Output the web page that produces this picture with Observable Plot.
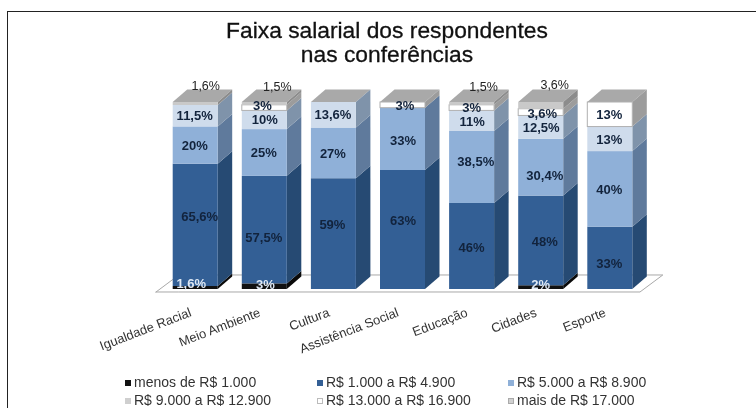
<!DOCTYPE html>
<html><head><meta charset="utf-8">
<script src="https://cdn.jsdelivr.net/npm/d3@7"></script>
<script src="https://cdn.jsdelivr.net/npm/@observablehq/plot@0.6"></script>
<style>
html,body{margin:0;padding:0;background:#fff;width:756px;height:408px;overflow:hidden;font-family:"Liberation Sans",Arial,sans-serif}
#frame{position:absolute;left:7px;top:11px;width:760px;height:420px;border-left:1px solid #222;border-top:1px solid #222;box-sizing:border-box}
#title{position:absolute;left:0;top:18px;width:774px;text-align:center;font-size:22.8px;line-height:24px;color:#111;-webkit-text-stroke:0.3px #111;filter:blur(0.35px)}
#chart{position:absolute;left:0;top:70px;filter:blur(0.45px)}
#legend{position:absolute;left:0;top:372px;width:756px;font-size:14px;color:#333;filter:blur(0.4px)}
.item{position:absolute;white-space:nowrap;line-height:16px}
.sw{display:inline-block;width:6px;height:6px;margin-right:3px;vertical-align:1px;box-sizing:border-box}
</style></head><body>
<div id="frame"></div>
<div id="title">Faixa salarial dos respondentes<br>nas conferências</div>
<div id="chart"></div>
<div id="legend"></div>
<script>
const categories = ["Igualdade Racial","Meio Ambiente","Cultura","Assistência Social","Educação","Cidades","Esporte"];
const series = ["menos de R$ 1.000","R$ 1.000 a R$ 4.900","R$ 5.000 a R$ 8.900","R$ 9.000 a R$ 12.900","R$ 13.000 a R$ 16.900","mais de R$ 17.000"];
const menos1000   = [1.6, 3,   0,  0,  0,   2,   0];
const de1000      = [65.6,57.5,59, 63, 46,  48,  33];
const de5000      = [20,  25,  27, 33, 38.5,30.4,40];
const de9000      = [11.5,10,  13.6,0, 11,  12.5,13];
const de13000     = [0,   3,   0,  3,  3,   3.6, 13];
const mais17000   = [1.6, 1.5, 0,  0,  1.5, 3.6, 0];
const valuesBySeries = [menos1000,de1000,de5000,de9000,de13000,mais17000];

const frontColors = ["#111111","#335f95","#8fb0d8","#cfdcec","#ffffff","#c9c9c9"];
const sideColors  = ["#0a0a0a","#264a73","#5f7a9c","#7f93aa","#9c9c9c","#8c8c8c"];
const topColor = "#a9a9a9";
const edgeColors  = ["none","none","none","none","#b0b0b0","none"];
const labelColors = ["#dfe9f5","#12233c","#12233c","#12233c","#12233c","#222"];

// label nudges in pixels from the middle of each segment (category|series: [dx,dy])
const nudges = {
 "0|0":[-4.5,-4.5],"0|1":[4,-9],"0|2":[-1,0],"0|3":[-1,0],"0|5":[10,-17.5],
 "1|0":[0.5,-2],"1|1":[-1,8],"1|2":[-1,0],"1|3":[0,0],"1|4":[-2.5,-2],"1|5":[12.5,-17],
 "2|1":[-1.5,-9],"2|2":[-1,0],"2|3":[-1,0],
 "3|1":[0,-9.5],"3|2":[0,1],"3|4":[2,0],
 "4|1":[-0.5,1],"4|2":[3.7,-6],"4|3":[0,0.7],"4|4":[-0.5,-0.7],"4|5":[11.5,-17],
 "5|0":[-0.5,-3],"5|1":[3.6,1],"5|2":[3.6,8],"5|3":[0,0],"5|4":[1,1],"5|5":[13.5,-21],
 "6|1":[-1,5],"6|2":[-1,0],"6|3":[-1,0],"6|4":[-1,0]
};

const halfWidth = 22.5/69.1, depthX = 14.5/69.1, depthY = 12.5/1.87;
const fmt = v => String(v).replace(".",",") + "%";

const fronts=[], sides=[], tops=[], labels=[];
categories.forEach((c,i)=>{
  const vals = valuesBySeries.map(a=>a[i]);
  const total = d3.sum(vals);
  let cum=0;
  vals.forEach((v,s)=>{
    if(!v) return;
    const a=cum/total*100; cum+=v; const b=cum/total*100;
    fronts.push({x1:i-halfWidth,x2:i+halfWidth,y1:a,y2:b,s});
    const id=i+"-"+s;
    sides.push({id,s,x:i+halfWidth,y1:a,y2:b},{id,s,x:i+halfWidth+depthX,y1:a+depthY,y2:b+depthY});
    const n=nudges[i+"|"+s]||[0,0];
    labels.push({x:i,y:(a+b)/2,t:fmt(v),s,dx:n[0],dy:n[1],top:s===5});
  });
  const id="t"+i, l=i-halfWidth, r=i+halfWidth;
  tops.push({id,x:l,y1:100,y2:100},{id,x:l+depthX,y1:100,y2:100+depthY},{id,x:r,y1:100,y2:100+depthY},{id,x:r+depthX,y1:100+depthY,y2:100+depthY});
});
const floorY=[-1.6,7.5], floorL=-0.567, floorR=6.437, floorD=0.33;
const floor=[
 {x:floorL,y1:floorY[0],y2:floorY[0]},
 {x:floorL+floorD,y1:floorY[0],y2:floorY[1]},
 {x:floorR,y1:floorY[0],y2:floorY[1]},
 {x:floorR+floorD,y1:floorY[1],y2:floorY[1]}
];
const textOf = (sel,opts)=>Plot.text(labels.filter(sel),{x:"x",y:"y",text:"t",render(index,scales,values,dims,ctx,next){
  const g=next(index,scales,values,dims,ctx);
  d3.select(g).selectAll("text").each(function(_,k){
    const d=labels.filter(sel)[index[k]];
    d3.select(this).attr("dx",d.dx).attr("dy",d.dy);
  });
  return g;
},...opts});

const chart = Plot.plot({
  width:756,height:300,margin:0,
  x:{type:"linear",domain:[0,6],range:[195.2,609.8],axis:null},
  y:{type:"linear",domain:[0,100],range:[219,32],axis:null},
  style:{background:"transparent",fontFamily:"'Liberation Sans',Arial,sans-serif"},
  marks:[
    Plot.areaY(floor,{x:"x",y1:"y1",y2:"y2",fill:"#fff",stroke:"#a8a8a8",strokeWidth:1,curve:"linear"}),
    Plot.areaY(tops,{x:"x",y1:"y1",y2:"y2",z:"id",fill:topColor,curve:"linear"}),
    Plot.areaY(sides,{x:"x",y1:"y1",y2:"y2",z:"id",fill:d=>sideColors[d.s],curve:"linear"}),
    Plot.rect(fronts,{x1:"x1",x2:"x2",y1:"y1",y2:"y2",fill:d=>frontColors[d.s],stroke:d=>edgeColors[d.s],inset:0}),
    textOf(d=>!d.top,{fontWeight:"bold",fontSize:13,fill:d=>labelColors[d.s]}),
    textOf(d=>d.top,{fontSize:12.5,fill:"#222"}),
    Plot.text(categories,{x:(d,i)=>i,y:()=>-12,text:d=>d,textAnchor:"end",rotate:-21,dx:-5,dy:0,fontSize:13,fill:"#333"})
  ]
});
document.getElementById("chart").appendChild(chart);

const legendPos=[[125,374],[317,374],[508,374],[125,392],[317,392],[508,392]];
const legendEdge=["#111","#335f95","#8fb0d8","#cfcfcf","#bbb","#aaa"];
const legendFill=["#111","#335f95","#8fb0d8","#cfcfcf","#fff","#d0d0d0"];
const lg=document.getElementById("legend");
series.forEach((s,i)=>{
  const e=document.createElement("div");e.className="item";
  e.style.left=legendPos[i][0]+"px";e.style.top=(legendPos[i][1]-372)+"px";
  const sw=document.createElement("span");sw.className="sw";sw.style.background=legendFill[i];sw.style.border="1px solid "+legendEdge[i];
  e.appendChild(sw);e.appendChild(document.createTextNode(s));lg.appendChild(e);
});
</script></body></html>
